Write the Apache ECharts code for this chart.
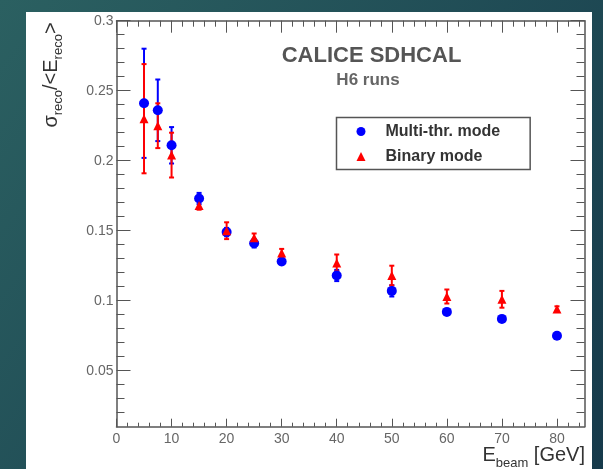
<!DOCTYPE html>
<html>
<head>
<meta charset="utf-8">
<script src="https://cdn.jsdelivr.net/npm/echarts@6/dist/echarts.min.js"></script>
<style>
html,body{margin:0;padding:0;}
#chart{width:603px;height:469px;}
</style>
</head>
<body>
<div id="chart"></div>
<script>
// ---- data ----
const beamEnergy = [5, 7.5, 10, 15, 20, 25, 30, 40, 50, 60, 70, 80];
const multiThr    = [0.241, 0.236, 0.211, 0.173, 0.149, 0.141, 0.128, 0.118, 0.107, 0.092, 0.087, 0.075];
const multiThrErr = [0.039, 0.022, 0.013, 0.004, 0.003, 0.003, 0.002, 0.004, 0.004, 0.002, 0.002, 0.002];
const binary      = [0.230, 0.225, 0.204, 0.168, 0.150, 0.145, 0.134, 0.127, 0.118, 0.103, 0.101, 0.094];
const binaryErr   = [0.039, 0.016, 0.016, 0.003, 0.006, 0.003, 0.003, 0.006, 0.007, 0.005, 0.006, 0.002];
const xTickLabels = [0, 10, 20, 30, 40, 50, 60, 70, 80];
const yTickLabels = [0.05, 0.1, 0.15, 0.2, 0.25, 0.3];
const seriesNames = ['Multi-thr. mode', 'Binary mode'];

// minor tick positions
const xMinor = [];
for (let i = 2; i <= 84; i += 2) if (i % 10 !== 0) xMinor.push(i);
const yMinor = [];
for (let i = 2; i <= 29; i++) if (i % 5 !== 0) yMinor.push(i / 100);

const FONT = '"Liberation Sans", Arial, Helvetica, sans-serif';
const X_MIN = 0, X_MAX = 85, Y_MIN = 0.01, Y_MAX = 0.3;
const FRAME = '#555';

function xAx(pos, ticks, len, withLine, withLabels) {
  return {
    type: 'value', position: pos, min: X_MIN, max: X_MAX,
    axisLine: { show: withLine, onZero: false, lineStyle: { color: FRAME, width: 1.5 } },
    axisTick: { show: true, inside: true, length: len, customValues: ticks, lineStyle: { color: FRAME, width: 1 } },
    axisLabel: withLabels ? { show: true, customValues: xTickLabels, margin: 5, color: '#666', fontSize: 14, fontFamily: FONT } : { show: false },
    splitLine: { show: false }
  };
}
function yAx(pos, ticks, len, withLine, withLabels) {
  return {
    type: 'value', position: pos, min: Y_MIN, max: Y_MAX,
    axisLine: { show: withLine, onZero: false, lineStyle: { color: FRAME, width: 1.5 } },
    axisTick: { show: true, inside: true, length: len, customValues: ticks, lineStyle: { color: FRAME, width: 1 } },
    axisLabel: withLabels ? { show: true, customValues: yTickLabels, margin: 3, color: '#666', fontSize: 14, fontFamily: FONT } : { show: false },
    splitLine: { show: false }
  };
}

function errSeries(name, ys, errs, color) {
  return {
    type: 'custom', name: name, xAxisIndex: 0, yAxisIndex: 0, z: 2,
    data: beamEnergy.map((x, i) => [x, ys[i] - errs[i], ys[i] + errs[i]]),
    renderItem: function (params, api) {
      const lo = api.coord([api.value(0), api.value(1)]);
      const hi = api.coord([api.value(0), api.value(2)]);
      const cw = 2.5;
      const st = { stroke: color, lineWidth: 2 };
      return { type: 'group', children: [
        { type: 'line', shape: { x1: lo[0], y1: lo[1], x2: hi[0], y2: hi[1] }, style: st },
        { type: 'line', shape: { x1: lo[0] - cw, y1: lo[1], x2: lo[0] + cw, y2: lo[1] }, style: st },
        { type: 'line', shape: { x1: hi[0] - cw, y1: hi[1], x2: hi[0] + cw, y2: hi[1] }, style: st }
      ]};
    }
  };
}

const chart = echarts.init(document.getElementById('chart'), null, { renderer: 'canvas' });
const option = {
  animation: false,
  backgroundColor: {
    type: 'linear', x: 0, y: 0, x2: 1, y2: 1,
    colorStops: [{ offset: 0, color: '#2b6061' }, { offset: 1, color: '#163a4b' }]
  },
  grid: { left: 116.5, right: 603 - 584.5, top: 20.7, bottom: 469 - 426.7, containLabel: false },
  xAxis: [
    xAx('bottom', xTickLabels, 8, true, true),
    xAx('bottom', xMinor, 4, false, false),
    xAx('top', xTickLabels, 12, true, false),
    xAx('top', xMinor, 6, false, false)
  ],
  yAxis: [
    yAx('left', yTickLabels, 14, true, true),
    yAx('left', yMinor, 8, false, false),
    yAx('right', yTickLabels, 14, true, false),
    yAx('right', yMinor, 8, false, false)
  ],
  legend: {
    data: seriesNames, orient: 'vertical', left: 336.5, top: 117.5,
    padding: [6, 30, 5, 20], itemWidth: 9, itemHeight: 9, itemGap: 9,
    borderColor: FRAME, borderWidth: 1.5, backgroundColor: '#fff', selectedMode: false,
    textStyle: { fontSize: 16, fontWeight: 'bold', color: '#333', fontFamily: FONT, padding: [0, 0, 0, 15] }
  },
  graphic: [
    { type: 'rect', z: -10, shape: { x: 26, y: 12, width: 566, height: 460 }, style: { fill: '#fff' } },
    { type: 'text', x: 371.5, y: 56, style: { text: 'CALICE SDHCAL', fill: '#555', font: 'bold 22px ' + FONT, align: 'center', verticalAlign: 'middle' } },
    { type: 'text', x: 368, y: 80, style: { text: 'H6 runs', fill: '#666', font: 'bold 17px ' + FONT, align: 'center', verticalAlign: 'middle' } },
    { type: 'text', x: 585, y: 470, style: {
        text: '{m|E}{s|beam}{m| [GeV]}', align: 'right', verticalAlign: 'bottom',
        rich: {
          m: { fontSize: 20, fontFamily: FONT, fill: '#333', color: '#333', verticalAlign: 'top' },
          s: { fontSize: 13, fontFamily: FONT, fill: '#333', color: '#333', verticalAlign: 'top', padding: [12, 0, 0, 0] }
        } } },
    { type: 'text', x: 53, y: 75, rotation: Math.PI / 2, style: {
        text: '{m|σ}{s|reco}{m|/<E}{s|reco}{m|>}', align: 'center', verticalAlign: 'middle',
        rich: {
          m: { fontSize: 20, fontFamily: FONT, fill: '#333', color: '#333', verticalAlign: 'top' },
          s: { fontSize: 13, fontFamily: FONT, fill: '#333', color: '#333', verticalAlign: 'top', padding: [11, 0, 0, 0] }
        } } }
  ],
  series: [
    errSeries('multiErr', multiThr, multiThrErr, '#0000ff'),
    errSeries('binErr', binary, binaryErr, '#ff0000'),
    {
      type: 'scatter', name: seriesNames[0], symbol: 'circle', symbolSize: 10, z: 3,
      itemStyle: { color: '#0000ff', opacity: 1 },
      data: beamEnergy.map((x, i) => [x, multiThr[i]])
    },
    {
      type: 'scatter', name: seriesNames[1], symbol: 'triangle', symbolSize: 9, z: 4,
      itemStyle: { color: '#ff0000', opacity: 1 },
      data: beamEnergy.map((x, i) => [x, binary[i]])
    }
  ]
};
chart.setOption(option);
</script>
</body>
</html>
